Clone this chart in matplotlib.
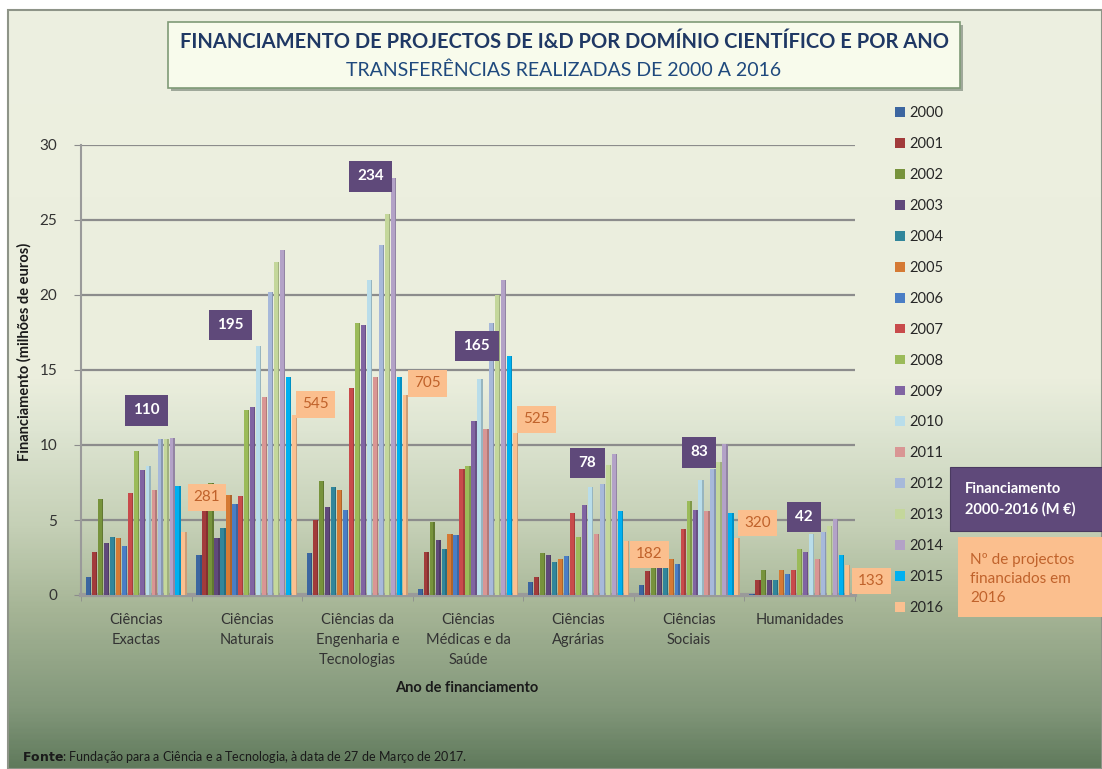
import numpy as np
import matplotlib
matplotlib.use("Agg")
import matplotlib.pyplot as plt
from matplotlib.patches import Rectangle
from matplotlib.colors import LinearSegmentedColormap

plt.rcParams['font.family'] = ['Lato', 'DejaVu Sans']

# ---------------- data ----------------
categories = ["Ciências\nExactas", "Ciências\nNaturais", "Ciências da\nEngenharia e\nTecnologias",
              "Ciências\nMédicas e da\nSaúde", "Ciências\nAgrárias", "Ciências\nSociais", "Humanidades"]
years = [str(y) for y in range(2000, 2017)]

exactas     = [1.2, 2.9, 6.4, 3.5, 3.9, 3.8, 3.3, 6.8, 9.6, 8.3, 8.6, 7.0, 10.4, 10.4, 10.5, 7.3, 4.2]
naturais    = [2.7, 6.4, 7.5, 3.8, 4.5, 6.7, 6.1, 6.6, 12.3, 12.5, 16.6, 13.2, 20.2, 22.2, 23.0, 14.5, 12.0]
engenharia  = [2.8, 5.0, 7.6, 5.9, 7.2, 7.0, 5.7, 13.8, 18.1, 18.0, 21.0, 14.5, 23.3, 25.4, 27.8, 14.5, 13.3]
medicas     = [0.4, 2.9, 4.9, 3.7, 3.1, 4.1, 4.0, 8.4, 8.6, 11.6, 14.4, 11.1, 18.1, 20.0, 21.0, 15.9, 10.8]
agrarias    = [0.9, 1.2, 2.8, 2.7, 2.2, 2.4, 2.6, 5.5, 3.9, 6.0, 7.2, 4.1, 7.4, 8.7, 9.4, 5.6, 3.6]
sociais     = [0.7, 1.6, 3.0, 2.6, 2.5, 2.4, 2.1, 4.4, 6.3, 5.7, 7.7, 5.6, 8.4, 8.9, 10.1, 5.5, 3.8]
humanidades = [0.1, 1.0, 1.7, 1.0, 1.0, 1.7, 1.4, 1.7, 3.1, 2.9, 4.1, 2.4, 4.2, 4.6, 5.1, 2.7, 2.0]

total_labels = ["110", "195", "234", "165", "78", "83", "42"]        # Financiamento 2000-2016 (M €)
project_labels = ["281", "545", "705", "525", "182", "320", "133"]   # Nº de projectos 2016

# ---------------- style / layout ----------------
colors = ["#3C66A0", "#A23B3B", "#77933C", "#60497B", "#31869B", "#D57A34", "#4A7EC5",
          "#C84B4B", "#9BBB59", "#8064A2", "#B9DDEA", "#D99694", "#A7B9DA", "#C4D79B",
          "#B3A2C7", "#00B0F0", "#FAC090"]
purple = "#5F497A"
peach = "#FBBF8E"
peach_text = "#C0622B"

# label positions (data coords) for the annotation boxes
total_pos = [(0.59, 12.3), (1.35, 18.0), (2.62, 27.9), (3.58, 16.6), (4.58, 8.8), (5.59, 9.5), (6.54, 5.2)]
proj_pos = [(1.14, 6.5), (2.12, 12.7), (3.13, 14.1), (4.12, 11.7), (5.14, 2.7), (6.12, 4.8), (7.15, 0.95)]

W, H = 1102, 769
fig = plt.figure(figsize=(W / 100, H / 100), dpi=100)
fig.patch.set_facecolor("white")

# background with gradient
bg = fig.add_axes([0, 0, 1, 1], zorder=-10)
bg.set_xlim(0, W); bg.set_ylim(H, 0); bg.axis("off")
stops = [(0.0, "#EDF0E1"), (370/759, "#EBEEDD"), (420/759, "#DEE5D2"), (520/759, "#C4CFB5"),
         (600/759, "#A6B596"), (700/759, "#82977A"), (1.0, "#607A5C")]
cmap = LinearSegmentedColormap.from_list("bgg", stops)
grad = np.linspace(0, 1, 400).reshape(-1, 1)
bg.imshow(grad, aspect="auto", cmap=cmap, extent=[8, W, H, 10], zorder=0)
bg.add_patch(Rectangle((8, 10), W - 8, H - 10, fill=False, edgecolor="#8E9488", lw=1.5, zorder=1))

# title box
bg.add_patch(Rectangle((171, 25), 792, 66, facecolor="#9FA89A", edgecolor="none", zorder=2))
bg.add_patch(Rectangle((168, 22), 792, 66, facecolor="#F8FBEC", edgecolor="#7F9A77", lw=1.2, zorder=3))
fig.text(564 / W, 1 - 42 / H, "FINANCIAMENTO DE PROJECTOS DE I&D POR DOMÍNIO CIENTÍFICO E POR ANO",
         ha="center", va="center", fontsize=14.5, fontweight="bold", color="#1F3864",
         family=["Liberation Sans Narrow", "Lato", "DejaVu Sans"])
fig.text(564 / W, 1 - 70 / H, "TRANSFERÊNCIAS REALIZADAS DE 2000 A 2016",
         ha="center", va="center", fontsize=14, color="#1F497D",
         family=["Liberation Sans Narrow", "Lato", "DejaVu Sans"])

# main axes
ax = fig.add_axes([81 / W, 1 - 595 / H, (855 - 81) / W, (595 - 145) / H])
ax.set_facecolor("none")
matrix = np.array([exactas, naturais, engenharia, medicas, agrarias, sociais, humanidades])
n_cat, n_year = matrix.shape
step = 0.054
bw = 0.047
base = np.arange(n_cat) + 0.5
for j in range(n_year):
    xs = base + (j - (n_year - 1) / 2) * step
    ax.bar(xs, matrix[:, j], width=bw, color=colors[j], edgecolor="none", zorder=3, label=years[j])
    # darker side for a slight 3D look
    ax.bar(xs + bw / 2 - 0.006, matrix[:, j], width=0.012, color="black", alpha=0.18,
           edgecolor="none", zorder=4)

ax.set_xlim(0, n_cat)
ax.set_ylim(0, 30)
ax.set_yticks(np.arange(0, 31, 5))
ax.set_xticks(base)
ax.set_xticklabels(categories, fontsize=10.5, color="#333333", linespacing=1.55)
ax.set_xticks(np.arange(n_cat + 1), minor=True)
ax.tick_params(axis="x", which="major", length=0, pad=13)
ax.tick_params(axis="x", which="minor", length=4, color="#8C8C8C")
ax.tick_params(axis="y", length=5, color="#8C8C8C", labelsize=11, labelcolor="#333333", pad=12)
ax.yaxis.grid(True, color="#8C8C8C", lw=1.6, zorder=0)
for s in ["top", "right"]:
    ax.spines[s].set_visible(False)
ax.spines["left"].set_color("#9A9A9A"); ax.spines["left"].set_linewidth(1.5)
ax.spines["bottom"].set_color("#9A9A9A"); ax.spines["bottom"].set_linewidth(3)

# data label boxes
for (x, y), t in zip(total_pos, total_labels):
    ax.text(x, y, t, ha="center", va="center", fontsize=11, fontweight="bold", color="white", zorder=6,
            bbox=dict(boxstyle="square,pad=0.55", facecolor=purple, edgecolor="none"))
for (x, y), t in zip(proj_pos, project_labels):
    ax.text(x, y, t, ha="center", va="center", fontsize=11, color=peach_text, zorder=6, clip_on=False,
            bbox=dict(boxstyle="square,pad=0.4", facecolor=peach, edgecolor="none"))

# axis titles
fig.text(24 / W, 1 - 352 / H, "Financiamento (milhões de euros)", rotation=90, ha="center", va="center",
         fontsize=10.5, fontweight="bold", color="#1A1A1A")
fig.text(467 / W, 1 - 688 / H, "Ano de financiamento", ha="center", va="center",
         fontsize=10.5, fontweight="bold", color="#1A1A1A")

# legend
handles, labels = ax.get_legend_handles_labels()
fig.legend(handles, labels, loc="upper left", bbox_to_anchor=(888 / W, 1 - 99 / H), frameon=False,
           fontsize=10.5, handlelength=0.65, handleheight=0.65, handletextpad=0.3,
           labelspacing=1.16, borderpad=0, labelcolor="#262626")

# explanation boxes
bg.add_patch(Rectangle((950, 467), 160, 64, facecolor=purple, edgecolor="#4A3A60", lw=0.8, zorder=5))
fig.text(965 / W, 1 - 499 / H, "Financiamento\n2000-2016 (M €)", ha="left", va="center",
         fontsize=10.5, fontweight="bold", color="white", linespacing=1.55)
bg.add_patch(Rectangle((958, 537), 150, 80, facecolor=peach, edgecolor="none", zorder=5))
fig.text(970 / W, 1 - 579 / H, "Nº de projectos\nfinanciados em\n2016", ha="left", va="center",
         fontsize=11, color=peach_text, linespacing=1.45)

# source
fig.text(22 / W, 1 - 757 / H, r"$\bf{Fonte}$: Fundação para a Ciência e a Tecnologia, à data de 27 de Março de 2017.",
         ha="left", va="center", fontsize=9, color="#1A1A1A")

fig.savefig("out.png", dpi=100)
